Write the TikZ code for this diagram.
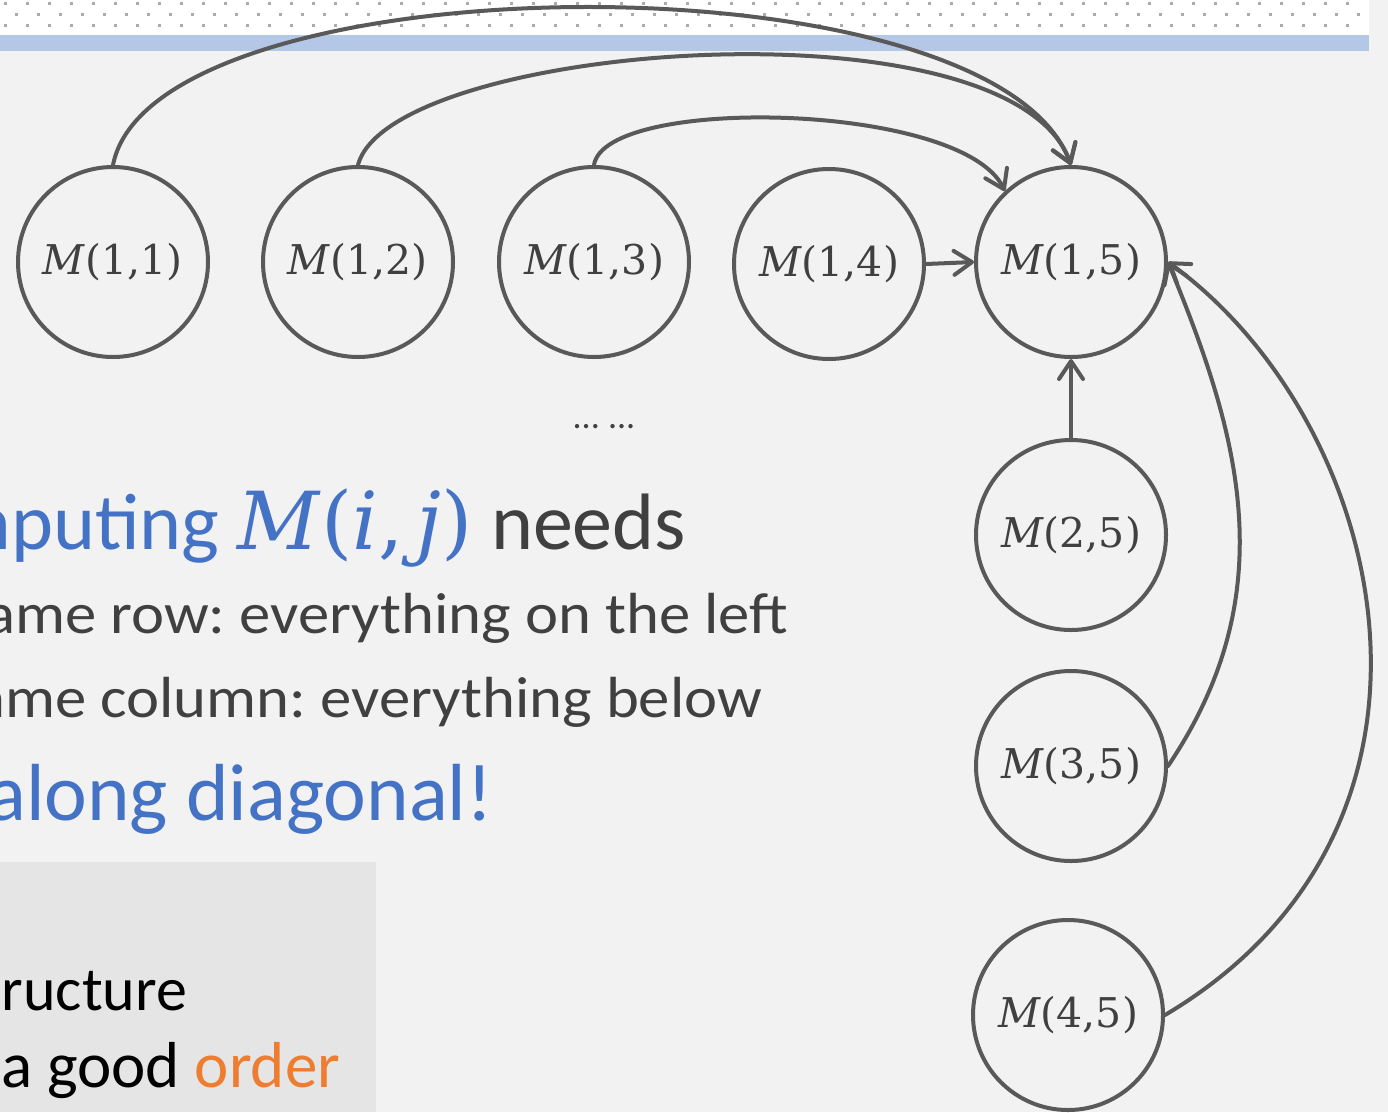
\documentclass[tikz,border=0pt]{standalone}
\usepackage{fontspec}
\setmainfont{Carlito}
\newfontfamily\widefont[FakeStretch=1.08]{Carlito}
\newfontfamily\mfont{DejaVu Serif}
\usetikzlibrary{arrows.meta}
\definecolor{bgc}{HTML}{F2F2F2}
\definecolor{bandc}{HTML}{B4C7E7}
\definecolor{dotc}{HTML}{ABABAB}
\definecolor{boxc}{HTML}{E5E5E5}
\definecolor{edgec}{HTML}{595959}
\definecolor{txtc}{HTML}{404040}
\definecolor{bluec}{HTML}{4472C4}
\definecolor{orangec}{HTML}{ED7D31}
\newcommand{\Mlab}[2]{{\mfont\itshape M\/}{\mfont(#1,#2)}}
\frenchspacing
\begin{document}
\begin{tikzpicture}[x=1pt,y=-1pt,
  mnode/.style={circle,draw=edgec,fill=bgc,line width=4pt,minimum size=190pt,inner sep=0pt,text=txtc,font=\fontsize{41}{48}\selectfont},
  edge/.style={draw=edgec,line width=4pt,line cap=round,-{Straight Barb[length=18pt,width=24pt,round]}},
  txt/.style={anchor=base east,inner sep=0pt,outer sep=0pt}]
\useasboundingbox (0,0) rectangle (1388,1112);
\clip (0,0) rectangle (1388,1112);
% background
\fill[bgc] (0,0) rectangle (1388,1112);
\fill[white] (0,0) rectangle (1369,35);
\fill[bandc] (0,35) rectangle (1369,51);
\foreach \i in {0,...,61} {
  \fill[dotc] ({5.4+22*\i-1.5},1.5) rectangle +(3,3);
  \fill[dotc] ({5.4+22*\i-1.5},23.5) rectangle +(3,3);
}
\foreach \i in {0,...,61} {
  \fill[dotc] ({16.5+22*\i-1.5},12.8) rectangle +(3,3);
}
% gray box
\fill[boxc] (0,862) rectangle (376,1112);
% nodes
\node[mnode] (m11) at (113,262) {\Mlab{1}{1}};
\node[mnode] (m12) at (358,262) {\Mlab{1}{2}};
\node[mnode] (m13) at (594,262) {\Mlab{1}{3}};
\node[mnode] (m14) at (829,264) {\Mlab{1}{4}};
\node[mnode] (m15) at (1071,262) {\Mlab{1}{5}};
\node[mnode] (m25) at (1071,535) {\Mlab{2}{5}};
\node[mnode] (m35) at (1071,766) {\Mlab{3}{5}};
\node[mnode] (m45) at (1068,1015) {\Mlab{4}{5}};
% edges
\draw[edge] (m11.north) .. controls +(40,-205) and +(-80,-215) .. (m15.north);
\draw[edge] (m12.north) .. controls +(32,-122) and +(-61,-170) .. (m15.north);
\draw[edge] (m13.north) .. controls +(11,-70) and +(-43,-89) .. (m15.133);
\draw[edge] (m14.east) -- (m15.west);
\draw[edge] (m25.north) -- (m15.south);
\draw[edge] (m35.east) .. controls +(118,-175) and +(70,170) .. (m15.east);
\draw[edge] (m45.east) .. controls +(320,-190) and +(220,160) .. (m15.east);
% texts
\node[text=txtc,font=\fontsize{36}{40}\selectfont,anchor=base] (dots) at (604,428) {... ...};
\node[txt,font=\fontsize{80}{90}\selectfont] (t1) at (686,549) {\textcolor{bluec}{mputing {\mfont\itshape M\/}{\mfont(\textit{i},\,\textit{j\/})}} \textcolor{txtc}{needs}};
\node[txt,font=\widefont\fontsize{58}{64}\selectfont,text=txtc] (t2) at (788,633) {ame row: everything on the left};
\node[txt,font=\widefont\fontsize{58}{64}\selectfont,text=txtc] (t3) at (762,717) {ame column: everything below};
\node[txt,font=\fontsize{81}{90}\selectfont,text=bluec] (t4) at (493,820) {along diagonal!};
\node[txt,font=\fontsize{62}{70}\selectfont,text=black] (t5) at (187,1010) {ructure};
\node[txt,font=\fontsize{65}{72}\selectfont,text=black] (t6) at (340,1087) {a good \textcolor{orangec}{order}};
\end{tikzpicture}
\end{document}
